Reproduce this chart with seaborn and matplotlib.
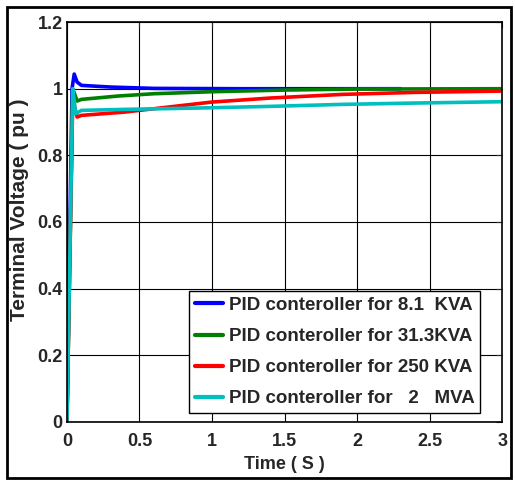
import numpy as np
import pandas as pd
import seaborn as sns
import matplotlib.pyplot as plt
from matplotlib.patches import Rectangle
from matplotlib.ticker import FormatStrFormatter

sns.set_style('white')
plt.rcParams['font.family'] = ['Liberation Sans', 'DejaVu Sans']
plt.rcParams['font.weight'] = 'bold'

labels = ['PID conteroller for 8.1  KVA', 'PID conteroller for 31.3KVA',
          'PID conteroller for 250 KVA', 'PID conteroller for   2   MVA']
colors = ['#0000ff', '#008000', '#ff0000', '#00bfbf']

t_blue = [0, 0.035, 0.05, 0.07, 0.1, 0.3, 0.6, 1.2, 2.3]
v_blue = [0, 1.0, 1.044, 1.02, 1.01, 1.005, 1.001, 1.0, 1.0]

t_green = [0, 0.04, 0.07, 0.1, 0.35, 0.6, 1.0, 1.5, 2.0, 3.0]
v_green = [0, 1.0, 0.963, 0.968, 0.978, 0.985, 0.991, 0.996, 0.999, 1.0]

t_red = [0, 0.04, 0.07, 0.1, 0.4, 0.7, 1.0, 1.4, 1.9, 2.4, 3.0]
v_red = [0, 0.97, 0.915, 0.92, 0.93, 0.945, 0.96, 0.972, 0.983, 0.989, 0.993]

t_cyan = [0, 0.04, 0.06, 0.1, 0.4, 0.9, 1.4, 1.9, 2.4, 3.0]
v_cyan = [0, 1.0, 0.925, 0.935, 0.938, 0.942, 0.947, 0.953, 0.957, 0.961]

frames = []
for lab, t, v in zip(labels, [t_blue, t_green, t_red, t_cyan],
                     [v_blue, v_green, v_red, v_cyan]):
    frames.append(pd.DataFrame({'t': t, 'v': v, 'case': lab}))
df = pd.concat(frames, ignore_index=True)

fig = plt.figure(figsize=(5.15, 4.8), dpi=100)
ax = fig.add_axes([0.130, 0.121, 0.845, 0.833])

sns.lineplot(data=df, x='t', y='v', hue='case', palette=colors,
             estimator=None, sort=False, lw=2.6, ax=ax)

ax.set_xlim(0, 3)
ax.set_ylim(0, 1.2)
ax.set_xticks(np.arange(0, 3.01, 0.5))
ax.set_yticks(np.arange(0, 1.21, 0.2))
ax.xaxis.set_major_formatter(FormatStrFormatter('%g'))
ax.yaxis.set_major_formatter(FormatStrFormatter('%g'))
ax.grid(True, color='black', lw=0.8)
ax.set_axisbelow(True)
ax.tick_params(direction='in', top=True, right=True, length=4, labelsize=13)
ax.tick_params(axis='x', pad=8)
ax.tick_params(axis='y', pad=3)
for s in ax.spines.values():
    s.set_color('black')
    s.set_linewidth(1.2)
ax.set_xlabel('Time ( S )', fontsize=13, fontweight='bold', labelpad=4)
ax.set_ylabel('Terminal Voltage ( pu )', fontsize=15, fontweight='bold')
ax.yaxis.set_label_coords(-0.087, 0.53)

leg = ax.legend(loc='lower right', bbox_to_anchor=(0.949, 0.022), borderaxespad=0,
                fontsize=13.5, handlelength=1.5, handletextpad=0.3, borderpad=0.3,
                labelspacing=0.75, frameon=True, fancybox=False, edgecolor='black',
                framealpha=1)
leg.get_frame().set_linewidth(1.0)
for line in leg.get_lines():
    line.set_linewidth(3)

fig.add_artist(Rectangle((0.013, 0.004), 0.979, 0.981, transform=fig.transFigure,
                         fill=False, edgecolor='black', lw=2))

fig.savefig('out.png', dpi=100)
